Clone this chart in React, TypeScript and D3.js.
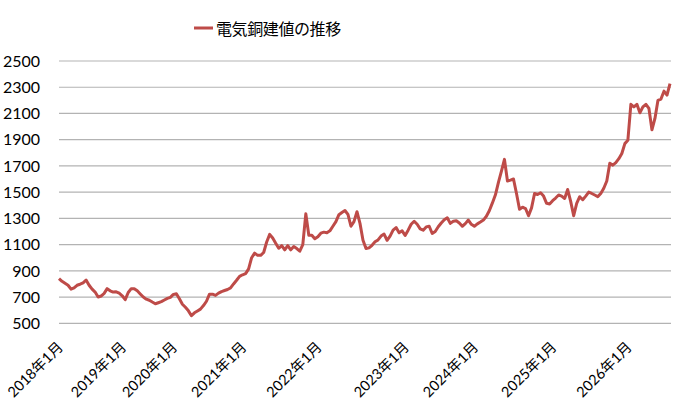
import React, { useEffect, useRef } from "react";
import * as d3 from "d3";

const title = "電気銅建値の推移";

const yTicks = [500, 700, 900, 1100, 1300, 1500, 1700, 1900, 2100, 2300, 2500];

const yearLabels = [
  "2018年1月", "2019年1月", "2020年1月", "2021年1月", "2022年1月",
  "2023年1月", "2024年1月", "2025年1月", "2026年1月",
];

// 建値 (円/kg)、改定ごとの値を年ごとに
const prices2018 = [841, 820, 805, 790, 760, 770, 790, 798, 808, 830, 790, 760, 738, 700, 708, 728, 764, 748, 738, 740, 730];
const prices2019 = [710, 680, 735, 764, 764, 748, 724, 700, 684, 676, 662, 649, 657, 665, 678, 690, 698];
const prices2020 = [720, 725, 687, 645, 622, 595, 558, 580, 594, 608, 635, 668, 722, 722, 713, 730, 742, 750, 758, 770, 800, 828, 858];
const prices2021 = [870, 879, 915, 1000, 1035, 1018, 1018, 1040, 1120, 1178, 1150, 1110, 1072, 1092, 1060, 1092, 1060, 1085, 1070, 1050, 1100, 1335, 1172, 1172, 1145];
const prices2022 = [1160, 1187, 1195, 1190, 1205, 1240, 1275, 1328, 1345, 1360, 1330, 1240, 1275, 1351, 1262, 1133, 1070, 1075, 1095, 1121, 1136, 1165, 1180, 1133, 1165, 1210, 1230, 1190, 1205];
const prices2023 = [1170, 1210, 1255, 1278, 1255, 1220, 1210, 1235, 1240, 1185, 1200, 1236, 1265, 1290, 1305, 1262, 1278, 1282, 1265, 1240, 1260, 1287, 1255];
const prices2024 = [1240, 1258, 1272, 1287, 1316, 1360, 1418, 1480, 1575, 1660, 1750, 1585, 1592, 1600, 1490, 1370, 1385, 1375, 1320, 1380, 1490, 1482, 1495, 1470, 1415, 1410];
const prices2025 = [1435, 1455, 1478, 1470, 1452, 1520, 1430, 1320, 1414, 1465, 1442, 1470, 1500, 1490, 1478, 1466, 1490, 1530, 1585, 1720, 1706, 1725, 1755, 1795, 1870];
const prices2026 = [1895, 2170, 2150, 2170, 2105, 2150, 2170, 2138, 1975, 2062, 2200, 2210, 2270, 2240, 2328];

const years = [prices2018, prices2019, prices2020, prices2021, prices2022, prices2023, prices2024, prices2025, prices2026];

const App = () => {
  const ref = useRef<SVGSVGElement>(null);

  useEffect(() => {
    const width = 679;
    const height = 410;
    const color = "#be4b48";
    const numFont = "Lato, 'Noto Sans CJK JP', sans-serif";

    const values = years.flat();
    const starts: number[] = [];
    let acc = 0;
    years.forEach((y) => {
      starts.push(acc);
      acc += y.length;
    });

    const x = d3.scaleLinear().domain([0, values.length - 1]).range([59, 670]);
    const y = d3.scaleLinear().domain([500, 2500]).range([323.3, 61]);

    const svg = d3.select(ref.current).attr("width", width).attr("height", height);
    svg.selectAll("*").remove();

    // grid
    svg.append("g")
      .selectAll("line")
      .data(yTicks)
      .enter().append("line")
      .attr("x1", 59)
      .attr("x2", 671)
      .attr("y1", (d) => y(d))
      .attr("y2", (d) => y(d))
      .attr("stroke", "#b3b3b3")
      .attr("stroke-width", 1.2);

    // y labels
    svg.append("g")
      .selectAll("text")
      .data(yTicks)
      .enter().append("text")
      .attr("x", 40)
      .attr("y", (d) => y(d))
      .attr("dy", "0.36em")
      .attr("text-anchor", "end")
      .attr("font-family", numFont)
      .attr("font-size", 16)
      .attr("fill", "#000")
      .text((d) => d);

    // x labels
    svg.append("g")
      .selectAll("text")
      .data(yearLabels)
      .enter().append("text")
      .attr("transform", (d, i) => `translate(${x(starts[i]) + 5},${348}) rotate(-45)`)
      .attr("text-anchor", "end")
      .attr("font-family", numFont)
      .attr("font-size", 14.5)
      .attr("fill", "#000")
      .text((d) => d);

    // line
    const line = d3.line<number>()
      .x((d, i) => x(i))
      .y((d) => y(d));

    svg.append("path")
      .datum(values)
      .attr("d", line)
      .attr("fill", "none")
      .attr("stroke", color)
      .attr("stroke-width", 3)
      .attr("stroke-linejoin", "round");

    // legend / title
    svg.append("line")
      .attr("x1", 194)
      .attr("x2", 213)
      .attr("y1", 28)
      .attr("y2", 28)
      .attr("stroke", color)
      .attr("stroke-width", 3);

    svg.append("text")
      .attr("x", 216)
      .attr("y", 29)
      .attr("dy", "0.36em")
      .attr("font-family", "'Noto Sans CJK JP', sans-serif")
      .attr("font-size", 16)
      .attr("letter-spacing", -0.4)
      .attr("fill", "#000")
      .text(title);
  }, []);

  return <svg ref={ref} style={{ position: "absolute", left: 0, top: 0 }}></svg>;
};

export default App;
